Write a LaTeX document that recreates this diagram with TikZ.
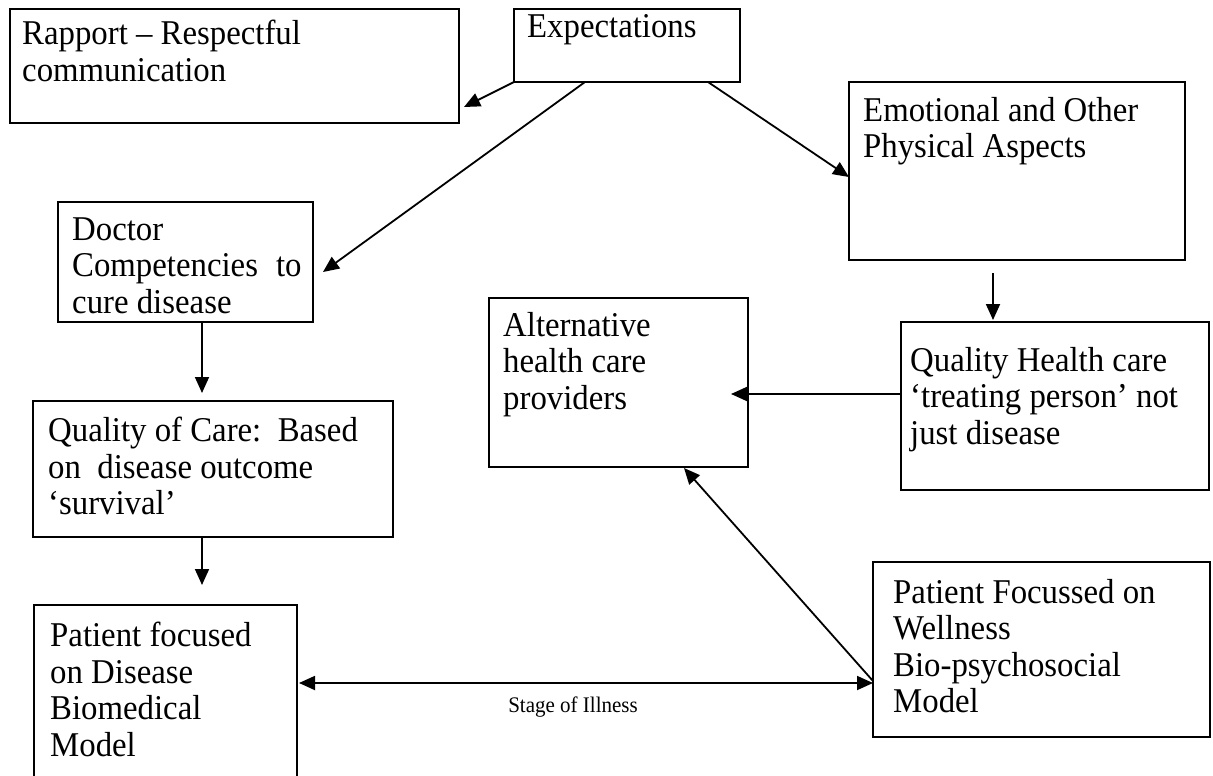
\documentclass[tikz,border=0pt]{standalone}
\usepackage{fontspec}
\setmainfont{Liberation Serif}
\usetikzlibrary{calc,arrows.meta}
\newcommand\tallstrut{\rule{0pt}{21.7pt}}
\begin{document}
\begin{tikzpicture}[x=1pt,y=-1pt,
  box/.style={draw, line width=2.2pt, anchor=north west, inner sep=0pt, outer sep=0pt},
  txt/.style={anchor=north west, inner sep=0pt, align=left, yscale=1.06, transform shape, font=\fontsize{32.8}{34.4}\selectfont},
  lab/.style={anchor=base, inner sep=0pt, yscale=1.06, transform shape, font=\fontsize{21}{24}\selectfont},
  arr/.style={line width=1.8pt, -{Triangle[length=16pt,width=14pt]}},
  darr/.style={line width=1.8pt, {Triangle[length=16pt,width=14pt]}-{Triangle[length=16pt,width=14pt]}}]
\useasboundingbox (0,0) rectangle (1213,776);
\clip (0,0) rectangle (1213,776);
% boxes
\node[box, minimum width=449pt, minimum height=114pt] (rapport) at (10,9) {};
\node[box, minimum width=226pt, minimum height=73pt] (expect) at (514,9) {};
\node[box, minimum width=336pt, minimum height=178pt] (emot) at (849,82) {};
\node[box, minimum width=255pt, minimum height=120pt] (doctor) at (58,202) {};
\node[box, minimum width=259pt, minimum height=169pt] (alt) at (489,298) {};
\node[box, minimum width=308pt, minimum height=168pt] (qh) at (901,322) {};
\node[box, minimum width=360pt, minimum height=136pt] (qoc) at (33,401) {};
\node[box, minimum width=337pt, minimum height=175pt] (well) at (873,562) {};
\node[box, minimum width=263pt, minimum height=190pt] (dis) at (34,605) {};
% texts
\node[txt] (t-rapport) at (22,20) {\tallstrut Rapport – Respectful\\communication};
\node[txt] (t-expect) at (527,14) {\tallstrut Expectations};
\node[txt] (t-emot) at (863,97) {\tallstrut Emotional and Other\\Physical Aspects};
\node[txt] (t-doctor) at (72,217) {\tallstrut Doctor\\Competencies\hspace{0.55em}to\\cure disease};
\node[txt] (t-alt) at (503,312) {\tallstrut Alternative\\health care\\providers};
\node[txt] (t-qh) at (910,347) {\tallstrut Quality Health care\\‘treating person’ not\\just disease};
\node[txt] (t-qoc) at (48,417) {\tallstrut Quality of Care:\ \ Based\\on\ \ disease outcome\\‘survival’};
\node[txt] (t-well) at (893,579) {\tallstrut Patient Focussed on\\Wellness\\Bio-psychosocial\\Model};
\node[txt] (t-dis) at (50,622) {\tallstrut Patient focused\\on Disease\\Biomedical\\Model};
% connectors
\draw[arr] (expect.south west) -- ($(rapport.south east)+(5,-16)$);
\draw[arr] ($(expect.south west)+(71,0)$) -- ($(doctor.east)+(10,10)$);
\draw[arr] ($(expect.south west)+(194,0)$) -- ($(emot.west)+(0,6)$);
\draw[arr] ($(emot.south west)+(144,13)$) -- ($(qh.north west)+(92,-2)$);
\draw[arr] ($(qh.north west)+(0,72)$) -- ($(alt.north east)+(-17,96)$);
\draw[arr] ($(doctor.south west)+(144,0)$) -- ($(qoc.north west)+(169,-8)$);
\draw[arr] ($(qoc.south west)+(169,0)$) -- ($(dis.north west)+(168,-20)$);
\draw[darr] ($(dis.north east)+(2,78)$) -- ($(well.north west)+(0,121)$);
\draw[arr] ($(well.north west)+(0,119)$) -- ($(alt.south west)+(195,1)$);
\node[lab] (stage) at (573,712) {Stage of Illness};
\end{tikzpicture}
\end{document}
